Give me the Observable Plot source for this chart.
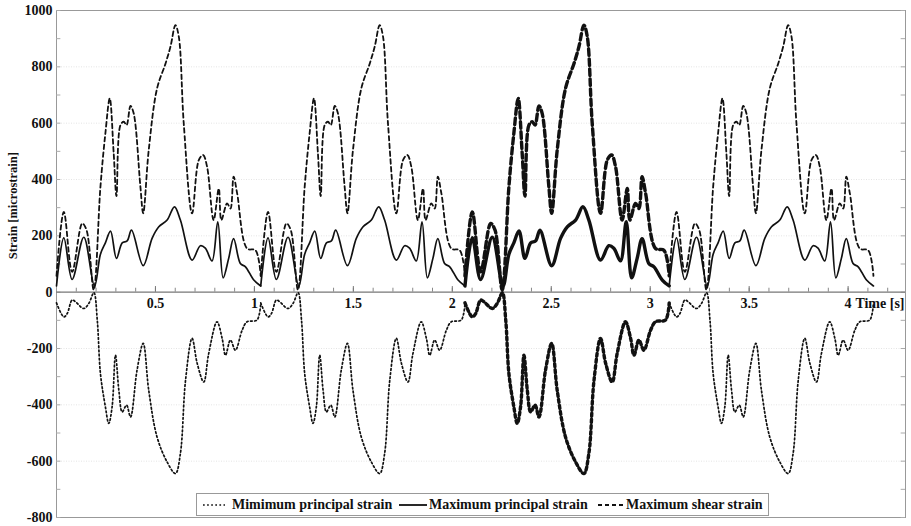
<!DOCTYPE html>
<html>
<head>
<meta charset="utf-8">
<script src="https://cdn.jsdelivr.net/npm/d3@7"></script>
<script src="https://cdn.jsdelivr.net/npm/@observablehq/plot@0.6"></script>
<style>
  body { margin: 0; background: #fff; }
  #wrap { position: relative; width: 911px; height: 526px; overflow: hidden; }
  #legend { position: absolute; left: 196px; top: 493px; width: 571px; height: 21px;
    border: 1px solid #999; background: #fff; font: bold 14px "Liberation Serif", serif; color: #111; }
  #legend span { position: absolute; top: 0; line-height: 21px; white-space: nowrap; }
  #legend svg { position: absolute; top: 6px; }
</style>
</head>
<body>
<div id="wrap">
  <div id="chart"></div>
  <div id="legend">
    <svg width="22" height="10" style="left:6px"><line x1="0" y1="5" x2="22" y2="5" stroke="#111" stroke-width="1.7" stroke-dasharray="1.7,2.4"/></svg>
    <span style="left:35px">Mimimum principal strain</span>
    <svg width="28" height="10" style="left:202px"><line x1="0" y1="5" x2="28" y2="5" stroke="#111" stroke-width="1.8"/></svg>
    <span style="left:232px">Maximum principal strain</span>
    <svg width="27" height="10" style="left:401px"><line x1="0" y1="5" x2="27" y2="5" stroke="#111" stroke-width="1.8" stroke-dasharray="4,3"/></svg>
    <span style="left:429px">Maximum shear strain</span>
  </div>
</div>
<script>
// Start time of each repeated gait cycle [s]; cycle index 2 is drawn bold
const cycleStarts = [0, 1.032, 2.064, 3.096];
const cycleLength = 1.032;
const boldCycle = 2;

// One gait cycle (time within cycle [s], strain [microstrain])
const maxPrincipalT = [0, 0.037, 0.079, 0.138, 0.192, 0.222, 0.247, 0.273, 0.303, 0.332, 0.357, 0.379, 0.438, 0.483, 0.517, 0.559, 0.596, 0.626, 0.685, 0.727, 0.752, 0.786, 0.815, 0.842, 0.870, 0.895, 0.929, 0.955, 0.997];
const maxPrincipalV = [22, 193, 45, 195, 21, 135, 175, 217, 120, 175, 182, 220, 94, 191, 232, 256, 303, 256, 114, 165, 156, 111, 250, 51, 120, 190, 102, 90, 43];

const maxShearT = [0, 0.037, 0.079, 0.130, 0.152, 0.188, 0.222, 0.247, 0.269, 0.289, 0.303, 0.323, 0.340, 0.354, 0.374, 0.390, 0.424, 0.438, 0.466, 0.508, 0.551, 0.576, 0.601, 0.618, 0.643, 0.685, 0.719, 0.741, 0.761, 0.794, 0.820, 0.833, 0.862, 0.879, 0.895, 0.913, 0.963, 1.005];
const maxShearV = [58, 285, 72, 244, 220, 8, 374, 564, 688, 493, 341, 593, 605, 593, 661, 635, 374, 280, 504, 723, 812, 872, 948, 907, 599, 280, 469, 487, 445, 256, 368, 256, 315, 297, 410, 350, 155, 149];

const minPrincipalT = [0, 0.037, 0.054, 0.079, 0.096, 0.138, 0.163, 0.189, 0.206, 0.222, 0.247, 0.264, 0.281, 0.298, 0.315, 0.332, 0.354, 0.374, 0.407, 0.438, 0.466, 0.508, 0.559, 0.601, 0.626, 0.652, 0.685, 0.711, 0.744, 0.769, 0.811, 0.837, 0.854, 0.879, 0.904, 0.938, 0.963, 1.013];
const minPrincipalV = [-38, -88, -76, -28, -34, -58, -40, -2, -99, -289, -407, -466, -407, -224, -348, -425, -401, -443, -277, -182, -348, -514, -603, -644, -573, -313, -164, -253, -319, -218, -105, -164, -224, -170, -206, -135, -105, -99];

// Axis ticks
const yTickValues = [1000, 800, 600, 400, 200, 0, -200, -400, -600, -800];
const yMinorTicks = [900, 700, 500, 300, 100, -100, -300, -500, -700];
const xTickValues = [0.5, 1, 1.5, 2, 2.5, 3, 3.5, 4];
const xTickLabels = ["0.5", "1", "1.5", "2", "2.5", "3", "3.5", "4"];
const xMinorTicks = d3.range(1, 43).map(i => i / 10);

function buildSeries(ts, vs) {
  const rows = [];
  cycleStarts.forEach((s, k) => {
    ts.forEach((t, i) => rows.push({t: s + t, v: vs[i], seg: k}));
    rows.push({t: s + cycleLength, v: vs[0], seg: k});
  });
  return rows;
}
const maxP = buildSeries(maxPrincipalT, maxPrincipalV);
const shear = buildSeries(maxShearT, maxShearV);
const minP = buildSeries(minPrincipalT, minPrincipalV);

const thin = rows => rows.filter(d => d.seg !== boldCycle);
const bold = rows => rows.filter(d => d.seg === boldCycle);
const curve = "catmull-rom";
const ink = "#111";
const font = {fontFamily: '"Liberation Serif", serif', fontWeight: "bold", fontSize: 14, fill: ink};

const chart = Plot.plot({
  width: 911, height: 526,
  marginLeft: 56, marginRight: 6, marginTop: 10, marginBottom: 9,
  x: {domain: [0, 4.29], axis: null},
  y: {domain: [-800, 1000], axis: null},
  style: {background: "#fff", fontFamily: '"Liberation Serif", serif'},
  marks: [
    Plot.ruleY([800, 600, 400, 200, -200, -400, -600], {stroke: "#e4e4e4", strokeDasharray: "1,1.5"}),
    Plot.frame({stroke: "#999"}),
    Plot.ruleY(yMinorTicks.concat(yTickValues), {x1: () => 0, x2: () => 0.022, stroke: "#aaa"}),
    Plot.ruleY(yMinorTicks.concat(yTickValues), {x1: () => 4.268, x2: () => 4.29, stroke: "#aaa"}),
    Plot.ruleY([0], {stroke: "#777", strokeWidth: 1.2}),
    Plot.ruleX(xMinorTicks, {y1: () => 0, y2: () => 14, stroke: "#888"}),
    Plot.ruleX(xTickValues, {y1: () => 0, y2: () => 20, stroke: "#777"}),
    Plot.text(yTickValues, {x: () => 0, y: d => d, text: d => String(d), textAnchor: "end", dx: -4, ...font}),
    Plot.text(xTickValues, {x: d => d, y: () => 0, text: (d, i) => xTickLabels[i], dy: 11, ...font}),
    Plot.text(["Time [s]"], {frameAnchor: "right", y: () => 0, textAnchor: "end", dx: -1, dy: 11, ...font}),
    Plot.text(["Strain [microstrain]"], {frameAnchor: "left", y: () => 117, rotate: -90, dx: -44, ...font, fontSize: 12.5}),
    // Minimum principal strain (dotted)
    Plot.line(thin(minP), {x: "t", y: "v", z: "seg", curve, stroke: ink, strokeWidth: 1.7, strokeDasharray: "1.7,2.4"}),
    Plot.line(bold(minP), {x: "t", y: "v", curve, stroke: ink, strokeWidth: 3.4, strokeDasharray: "3,3"}),
    // Maximum principal strain (solid)
    Plot.line(thin(maxP), {x: "t", y: "v", z: "seg", curve, stroke: ink, strokeWidth: 1.7}),
    Plot.line(bold(maxP), {x: "t", y: "v", curve, stroke: ink, strokeWidth: 3.4}),
    // Maximum shear strain (dashed)
    Plot.line(thin(shear), {x: "t", y: "v", z: "seg", curve, stroke: ink, strokeWidth: 1.8, strokeDasharray: "4.5,3.2"}),
    Plot.line(bold(shear), {x: "t", y: "v", curve, stroke: ink, strokeWidth: 3.4, strokeDasharray: "6.5,3.5"})
  ]
});
document.getElementById("chart").appendChild(chart);
</script>
</body>
</html>
